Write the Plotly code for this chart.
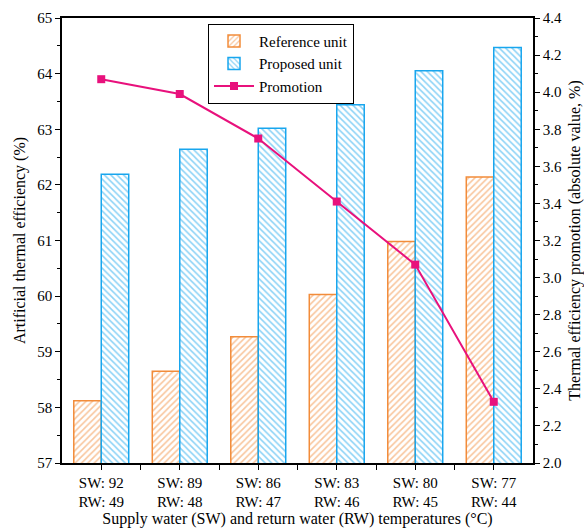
import plotly.graph_objects as go

# Operating points: supply / return water temperatures
supply_temps = [92, 89, 86, 83, 80, 77]
return_temps = [49, 48, 47, 46, 45, 44]
tick_labels = [f"SW: {s}<br>RW: {r}" for s, r in zip(supply_temps, return_temps)]

# Artificial thermal efficiency (%)
reference_unit = [58.12, 58.65, 59.27, 60.03, 60.98, 62.14]
proposed_unit = [62.19, 62.64, 63.02, 63.44, 64.05, 64.47]
# Thermal efficiency promotion (absolute value, %)
promotion = [4.07, 3.99, 3.75, 3.41, 3.07, 2.33]

x_pos = list(range(len(supply_temps)))

FONT = "Liberation Serif, Times New Roman, serif"
ORANGE = "#F28C3A"
BLUE = "#18A6EE"
PINK = "#E8117C"

fig = go.Figure()

fig.add_trace(go.Bar(
    x=x_pos, y=reference_unit, name="Reference unit",
    marker=dict(color="white",
                line=dict(color=ORANGE, width=1.5),
                pattern=dict(shape="/", fgcolor=ORANGE, bgcolor="white",
                             size=4.5, solidity=0.35)),
))
fig.add_trace(go.Bar(
    x=x_pos, y=proposed_unit, name="Proposed unit",
    marker=dict(color="white",
                line=dict(color=BLUE, width=1.5),
                pattern=dict(shape="\\", fgcolor=BLUE, bgcolor="white",
                             size=4.5, solidity=0.35)),
))
fig.add_trace(go.Scatter(
    x=x_pos, y=promotion, name="Promotion", yaxis="y2",
    mode="lines+markers",
    line=dict(color=PINK, width=2),
    marker=dict(symbol="square", size=8, color=PINK),
))

fig.update_layout(
    width=584, height=530,
    margin=dict(l=62, r=51, t=18, b=67),
    paper_bgcolor="white", plot_bgcolor="white",
    font=dict(family=FONT, size=15, color="black"),
    barmode="group", bargap=0.3, bargroupgap=0,
    showlegend=True,
    legend=dict(x=0.31, y=0.987, xanchor="left", yanchor="top",
                bordercolor="black", borderwidth=1, bgcolor="white",
                font=dict(family=FONT, size=15), tracegroupgap=0,
                itemwidth=40),
    xaxis=dict(
        range=[-0.5, 5.5], automargin=False,
        tickmode="array", tickvals=x_pos, ticktext=tick_labels,
        ticks="outside", ticklen=5, tickwidth=1.2, tickcolor="black",
        minor=dict(tickmode="array", tickvals=[i + 0.5 for i in x_pos[:-1]],
                   ticks="outside", ticklen=5, tickwidth=1.2, tickcolor="black"),
        showline=True, linecolor="black", linewidth=1.5, mirror=True,
        showgrid=False, zeroline=False,
        title=dict(text="Supply water (SW) and return water (RW) temperatures (°C)",
                   font=dict(family=FONT, size=16), standoff=4),
        tickfont=dict(family=FONT, size=15),
    ),
    yaxis=dict(
        range=[57, 65], dtick=1, tick0=57, automargin=False,
        ticks="outside", ticklen=5, tickwidth=1.2, tickcolor="black",
        minor=dict(dtick=0.5, tick0=57, ticks="outside", ticklen=3,
                   tickwidth=1.2, tickcolor="black"),
        showline=True, linecolor="black", linewidth=1.5,
        showgrid=False, zeroline=False,
        title=dict(text="Artificial thermal efficiency (%)",
                   font=dict(family=FONT, size=16), standoff=8),
        tickfont=dict(family=FONT, size=15),
    ),
    yaxis2=dict(
        overlaying="y", side="right", automargin=False,
        range=[2.0, 4.4], dtick=0.2, tick0=2.0, tickformat=".1f",
        ticks="outside", ticklen=5, tickwidth=1.2, tickcolor="black",
        minor=dict(dtick=0.1, tick0=2.0, ticks="outside", ticklen=3,
                   tickwidth=1.2, tickcolor="black"),
        showline=True, linecolor="black", linewidth=1.5,
        showgrid=False, zeroline=False,
        title=dict(text="Thermal efficiency promotion (absolute value, %)",
                   font=dict(family=FONT, size=16), standoff=8),
        tickfont=dict(family=FONT, size=15),
    ),
)

fig.write_html("out.html")
